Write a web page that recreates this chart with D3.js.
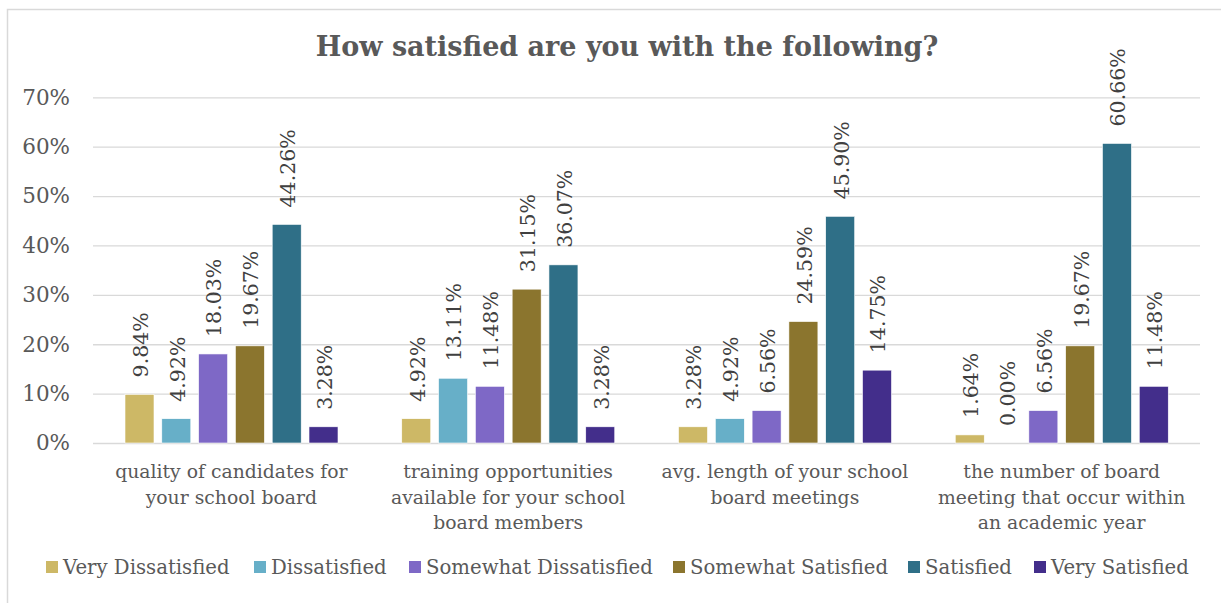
<!DOCTYPE html>
<html>
<head>
<meta charset="utf-8">
<script src="https://cdn.jsdelivr.net/npm/d3@7"></script>
<style>
  html, body { margin: 0; padding: 0; background: #fff; }
  svg { display: block; }
  text { font-family: "DejaVu Serif", serif; }
</style>
</head>
<body>
<svg id="chart" width="1221" height="603"></svg>
<script>
const title = "How satisfied are you with the following?";
const categories = [
  "quality of candidates for\nyour school board",
  "training opportunities\navailable for your school\nboard members",
  "avg. length of your school\nboard meetings",
  "the number of board\nmeeting that occur within\nan academic year"
];
const seriesNames = ["Very Dissatisfied", "Dissatisfied", "Somewhat Dissatisfied", "Somewhat Satisfied", "Satisfied", "Very Satisfied"];
const seriesColors = ["#CDB866", "#67AFC8", "#7E68C6", "#8B752E", "#2F6F87", "#432E8B"];
const veryDissatisfied = [9.84, 4.92, 3.28, 1.64];
const dissatisfied = [4.92, 13.11, 4.92, 0.00];
const somewhatDissatisfied = [18.03, 11.48, 6.56, 6.56];
const somewhatSatisfied = [19.67, 31.15, 24.59, 19.67];
const satisfied = [44.26, 36.07, 45.90, 60.66];
const verySatisfied = [3.28, 3.28, 14.75, 11.48];
const seriesValues = [veryDissatisfied, dissatisfied, somewhatDissatisfied, somewhatSatisfied, satisfied, verySatisfied];
const yTicks = [0, 10, 20, 30, 40, 50, 60, 70];

const svg = d3.select("#chart");

// outer border
svg.append("rect").attr("x", 7.5).attr("y", 9.5).attr("width", 1300).attr("height", 700)
  .attr("fill", "none").attr("stroke", "#d9d9d9").attr("stroke-width", 1.5);

const plotLeft = 93, plotRight = 1200;
const y = d3.scaleLinear().domain([0, 70]).range([443, 97.3]);
const x0 = d3.scaleBand().domain(d3.range(categories.length)).range([plotLeft, plotRight]).padding(0);
const x1 = d3.scaleBand().domain(d3.range(seriesNames.length))
  .range([32, x0.bandwidth() - 31.75]).paddingInner(0.212).paddingOuter(0);

// title
svg.append("text").attr("x", 627).attr("y", 56).attr("text-anchor", "middle")
  .attr("font-size", 27).attr("font-weight", "bold").attr("fill", "#595959").text(title);

// gridlines + y axis
const yAxis = d3.axisLeft(y).tickValues(yTicks).tickSize(-(plotRight - plotLeft)).tickPadding(23)
  .tickFormat(d => d + "%");
const gy = svg.append("g").attr("transform", `translate(${plotLeft},0)`).call(yAxis);
gy.select(".domain").remove();
gy.selectAll(".tick line").attr("stroke", "#d9d9d9").attr("stroke-width", 1.3);
gy.selectAll(".tick text").attr("font-size", 21.5).attr("fill", "#595959")
  .attr("font-family", "DejaVu Serif, serif");

// bars
const groups = svg.append("g").selectAll("g").data(categories).join("g")
  .attr("transform", (d, i) => `translate(${x0(i)},0)`);

groups.each(function(c, ci) {
  const g = d3.select(this);
  seriesNames.forEach((s, si) => {
    const v = seriesValues[si][ci];
    g.append("rect")
      .attr("x", x1(si)).attr("width", x1.bandwidth())
      .attr("y", y(v)).attr("height", y(0) - y(v))
      .attr("fill", seriesColors[si]).attr("stroke", "#ffffff").attr("stroke-width", 0.6);
    const cx = x1(si) + x1.bandwidth() / 2;
    const ty = y(v) - 17;
    g.append("text")
      .attr("transform", `translate(${cx + 1},${ty}) rotate(-90)`)
      .attr("text-anchor", "start").attr("dy", "0.36em")
      .attr("font-size", 20.5).attr("fill", "#404040")
      .text(v.toFixed(2) + "%");
  });
});

// category labels
categories.forEach((c, ci) => {
  const lines = c.split("\n");
  const t = svg.append("text").attr("text-anchor", "middle").attr("font-size", 18.8).attr("fill", "#595959");
  lines.forEach((ln, li) => {
    t.append("tspan").attr("x", x0(ci) + x0.bandwidth() / 2).attr("y", 478 + li * 25.5).text(ln);
  });
});

// legend
const legendX = [46, 254, 409, 673, 908, 1034];
seriesNames.forEach((s, si) => {
  svg.append("rect").attr("x", legendX[si]).attr("y", 561).attr("width", 12).attr("height", 12)
    .attr("fill", seriesColors[si]);
  svg.append("text").attr("x", legendX[si] + 17).attr("y", 574).attr("font-size", 19.7)
    .attr("fill", "#595959").text(s);
});
</script>
</body>
</html>
